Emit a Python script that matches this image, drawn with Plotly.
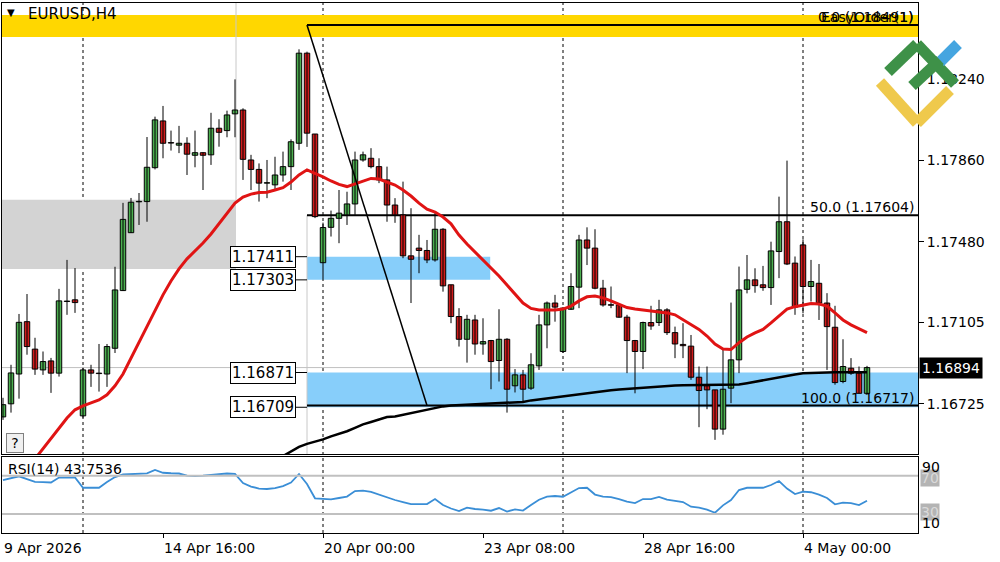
import plotly.graph_objects as go

# ---------------- data (EURUSD H4) ----------------
time_labels = ["9 Apr 2026", "14 Apr 16:00", "20 Apr 00:00", "23 Apr 08:00", "28 Apr 16:00", "4 May 00:00"]
time_label_bars = [0, 20, 40, 60, 80, 100]
week_separators = [10, 40, 70, 100]

open_ = [1.16664, 1.16725, 1.16864, 1.17108, 1.16980, 1.16883, 1.16925, 1.16868, 1.17203, 1.17210,
         1.16669, 1.16883, 1.16868, 1.16864, 1.16984, 1.17253, 1.17523, 1.17667, 1.17668, 1.17826,
         1.18044, 1.17943, 1.17931, 1.17940, 1.17884, 1.17896, 1.17886, 1.18010, 1.17999, 1.18077,
         1.18095, 1.17862, 1.17818, 1.17754, 1.17746, 1.17792, 1.17831, 1.17940, 1.18360, 1.17983,
         1.17383, 1.17548, 1.17590, 1.17606, 1.17657, 1.17862, 1.17870, 1.17831, 1.17769, 1.17652,
         1.17606, 1.17415, 1.17451, 1.17440, 1.17396, 1.17539, 1.17280, 1.17132, 1.17026, 1.17116,
         1.17004, 1.17020, 1.16927, 1.17026, 1.16809, 1.16860, 1.16798, 1.16902, 1.17093, 1.17195,
         1.16969, 1.17166, 1.17269, 1.17489, 1.17451, 1.17264, 1.17186, 1.17186, 1.17129, 1.17020,
         1.16969, 1.17104, 1.17104, 1.17163, 1.17057, 1.17002, 1.16994, 1.16849, 1.16809, 1.16790,
         1.16607, 1.16798, 1.16930, 1.17259, 1.17303, 1.17280, 1.17267, 1.17435, 1.17574, 1.17381,
         1.17466, 1.17272, 1.17287, 1.17195, 1.17082, 1.16829, 1.16891, 1.16868, 1.16774]
high = [1.16753, 1.16907, 1.17144, 1.17237, 1.17033, 1.16969, 1.16939, 1.17261, 1.17396, 1.17358,
        1.16893, 1.16907, 1.17004, 1.17004, 1.17364, 1.17662, 1.17685, 1.17708, 1.17969, 1.18064,
        1.18114, 1.17999, 1.18021, 1.17968, 1.17999, 1.17898, 1.18082, 1.18052, 1.18092, 1.18238,
        1.18103, 1.17886, 1.17846, 1.17862, 1.17877, 1.17901, 1.17958, 1.18378, 1.18367, 1.17983,
        1.17570, 1.17626, 1.17722, 1.17714, 1.17901, 1.17901, 1.17917, 1.17870, 1.17831, 1.17684,
        1.17761, 1.17637, 1.17513, 1.17489, 1.17621, 1.17544, 1.17280, 1.17171, 1.17140, 1.17140,
        1.17124, 1.17023, 1.17166, 1.17031, 1.16887, 1.16883, 1.16961, 1.17140, 1.17202, 1.17233,
        1.17176, 1.17334, 1.17513, 1.17548, 1.17539, 1.17303, 1.17272, 1.17195, 1.17140, 1.17023,
        1.17108, 1.17182, 1.17210, 1.17171, 1.17085, 1.17101, 1.17046, 1.16899, 1.16899, 1.16790,
        1.16984, 1.17197, 1.17365, 1.17419, 1.17357, 1.17368, 1.17481, 1.17691, 1.17859, 1.17412,
        1.17492, 1.17396, 1.17377, 1.17241, 1.17182, 1.17026, 1.16938, 1.16899, 1.16902]
low = [1.16650, 1.16684, 1.16749, 1.16954, 1.16860, 1.16860, 1.16776, 1.16852, 1.17140, 1.17149,
       1.16660, 1.16804, 1.16782, 1.16804, 1.16962, 1.17251, 1.17522, 1.17559, 1.17574, 1.17818,
       1.17870, 1.17906, 1.17894, 1.17792, 1.17828, 1.17722, 1.17839, 1.17924, 1.17968, 1.17968,
       1.17769, 1.17722, 1.17668, 1.17684, 1.17722, 1.17761, 1.17722, 1.17909, 1.17923, 1.17591,
       1.17303, 1.17505, 1.17474, 1.17559, 1.17606, 1.17854, 1.17823, 1.17754, 1.17574, 1.17569,
       1.17404, 1.17195, 1.17334, 1.17381, 1.17388, 1.17248, 1.17101, 1.16992, 1.16917, 1.16954,
       1.16954, 1.16793, 1.16829, 1.16684, 1.16778, 1.16736, 1.16790, 1.16883, 1.16984, 1.17108,
       1.16962, 1.17163, 1.17171, 1.17372, 1.17259, 1.17178, 1.17171, 1.17126, 1.16868, 1.16774,
       1.16887, 1.17070, 1.17088, 1.17046, 1.16938, 1.16938, 1.16837, 1.16616, 1.16700, 1.16557,
       1.16581, 1.16728, 1.16868, 1.17240, 1.17243, 1.17252, 1.17186, 1.17311, 1.17372, 1.17140,
       1.17147, 1.17202, 1.17116, 1.16883, 1.16814, 1.16821, 1.16860, 1.16774, 1.16771]
close_ = [1.16721, 1.16869, 1.17105, 1.16992, 1.16887, 1.16922, 1.16868, 1.17205, 1.17202, 1.17197,
          1.16883, 1.16868, 1.16866, 1.16992, 1.17256, 1.17585, 1.17665, 1.17668, 1.17828, 1.18049,
          1.17940, 1.17941, 1.17940, 1.17889, 1.17896, 1.17884, 1.18010, 1.17991, 1.18072, 1.18095,
          1.17865, 1.17818, 1.17754, 1.17756, 1.17792, 1.17831, 1.17947, 1.18360, 1.17987, 1.17598,
          1.17547, 1.17590, 1.17614, 1.17657, 1.17862, 1.17886, 1.17831, 1.17769, 1.17652, 1.17606,
          1.17415, 1.17399, 1.17440, 1.17396, 1.17539, 1.17275, 1.17132, 1.17026, 1.17119, 1.17004,
          1.17015, 1.16922, 1.17026, 1.16793, 1.16860, 1.16793, 1.16907, 1.17093, 1.17195, 1.17176,
          1.17171, 1.17272, 1.17489, 1.17451, 1.17264, 1.17186, 1.17185, 1.17129, 1.17020, 1.16969,
          1.17104, 1.17088, 1.17163, 1.17057, 1.17004, 1.16996, 1.16849, 1.16787, 1.16790, 1.16607,
          1.16793, 1.16930, 1.17256, 1.17303, 1.17276, 1.17267, 1.17438, 1.17574, 1.17377, 1.17176,
          1.17272, 1.17295, 1.17195, 1.17085, 1.16824, 1.16899, 1.16868, 1.16774, 1.16894]

ma_red = [None] * 4 + [
    1.16468, 1.16515, 1.16566, 1.16613, 1.16659, 1.16697, 1.16715, 1.16729, 1.16743, 1.16767,
    1.16809, 1.16864, 1.16939, 1.17014, 1.17088, 1.17163, 1.17233, 1.17298, 1.17354, 1.17401,
    1.17438, 1.17475, 1.17517, 1.17564, 1.17615, 1.17661, 1.17689, 1.17703, 1.17710, 1.17712,
    1.17722, 1.17733, 1.17759, 1.17792, 1.17816, 1.17801, 1.17783, 1.17764, 1.17748, 1.17738,
    1.17750, 1.17764, 1.17776, 1.17773, 1.17759, 1.17745, 1.17722, 1.17694, 1.17661, 1.17633,
    1.17619, 1.17596, 1.17564, 1.17512, 1.17470, 1.17433, 1.17396, 1.17358, 1.17321, 1.17279,
    1.17237, 1.17195, 1.17170, 1.17163, 1.17163, 1.17163, 1.17167, 1.17181, 1.17205, 1.17224,
    1.17228, 1.17219, 1.17205, 1.17188, 1.17174, 1.17167, 1.17163, 1.17160, 1.17156, 1.17149,
    1.17140, 1.17116, 1.17093, 1.17072, 1.17041, 1.17004, 1.16981, 1.16978, 1.17010, 1.17037,
    1.17056, 1.17072, 1.17102, 1.17135, 1.17167, 1.17178, 1.17186, 1.17193, 1.17190, 1.17181,
    1.17149, 1.17116, 1.17093, 1.17075, 1.17057]

ma_black = [None] * 34 + [
    1.16460, 1.16482, 1.16501, 1.16524, 1.16538, 1.16547,
    1.16559, 1.16573, 1.16585, 1.16597, 1.16613, 1.16629, 1.16640, 1.16652, 1.16663, 1.16666,
    1.16674, 1.16681, 1.16688, 1.16697, 1.16706, 1.16713, 1.16717, 1.16719, 1.16721, 1.16722,
    1.16724, 1.16725, 1.16727, 1.16728, 1.16730, 1.16734, 1.16741, 1.16746, 1.16750, 1.16755,
    1.16759, 1.16764, 1.16769, 1.16774, 1.16779, 1.16784, 1.16788, 1.16792, 1.16795, 1.16798,
    1.16801, 1.16804, 1.16807, 1.16810, 1.16810, 1.16812, 1.16812, 1.16812, 1.16813, 1.16813,
    1.16814, 1.16814, 1.16815, 1.16821, 1.16828, 1.16835, 1.16844, 1.16850, 1.16857, 1.16862,
    1.16867, 1.16869, 1.16871, 1.16872, 1.16872, 1.16872, 1.16872, 1.16872, 1.16872]

rsi = [65.4, 67.0, 69.3, 66.4, 63.5, 63.3, 62.8, 68.0, 68.2, 68.2,
       57.3, 57.3, 57.3, 63.3, 68.5, 71.2, 71.7, 72.1, 72.4, 75.9,
       73.0, 72.5, 72.2, 70.1, 69.6, 70.1, 70.6, 71.2, 72.2, 71.9,
       62.3, 58.6, 56.5, 56.0, 57.0, 59.1, 62.8, 71.7, 61.2, 46.3,
       45.5, 45.2, 46.6, 48.1, 53.9, 54.4, 53.1, 50.2, 47.1, 44.5,
       42.4, 40.3, 40.3, 40.3, 45.5, 39.2, 35.6, 33.0, 36.6, 35.1,
       34.5, 33.3, 36.1, 32.4, 34.7, 33.5, 39.2, 44.8, 48.1, 48.7,
       47.9, 52.8, 57.0, 57.3, 50.2, 48.1, 47.6, 45.5, 42.9, 41.3,
       45.5, 45.5, 47.8, 45.0, 43.4, 42.4, 37.5, 36.6, 34.5, 31.2,
       38.9, 44.5, 54.9, 57.3, 57.3, 57.3, 60.2, 64.4, 56.5, 50.8,
       53.2, 52.6, 50.2, 46.6, 40.0, 41.7, 41.3, 39.2, 43.7536]

price_ticks = [1.18240, 1.17860, 1.17480, 1.17105, 1.16725]
price_tick_text = ["1.18240", "1.17860", "1.17480", "1.17105", "1.16725"]
last_price = 1.16894
fib_levels = [1.18491, 1.17604, 1.16717]
fib_texts = ["0.0 (1.18491)", "50.0 (1.17604)", "100.0 (1.16717)"]
fib_start_bar, fib_end_bar = 38, 53
yellow_band = (1.18436, 1.18538)
gray_zone = (1.17354, 1.17676)
gray_zone_end_bar = 29.125
zone_upper = (1.17303, 1.17411)
zone_upper_end_bar = 60.9
zone_lower = (1.16709, 1.16871)
zone_labels = [1.17411, 1.17303, 1.16871, 1.16709]
rsi_levels = [70, 30]

# ---------------- styling / layout helpers ----------------
FONT = "DejaVu Sans"
GREEN = "#4CAF50"
RED = "#D01C1C"
PL, PR, PT, PB = 2, 918, 3, 533
MAIN_BOTTOM, RSI_TOP = 454, 456.5
XR = [-0.125, 114.375]
YR = [1.16491, 1.18594]


def px(x):
    return (x - PL) / (PR - PL)


def py(y):
    return (PB - y) / (PB - PT)


N = len(close_)
xs = list(range(N))
fig = go.Figure()

# wicks
wx, wy = [], []
for i in xs:
    wx += [i, i, None]
    wy += [low[i], high[i], None]
fig.add_trace(go.Scatter(x=wx, y=wy, mode="lines", line=dict(color="black", width=1),
                         hoverinfo="skip", showlegend=False))

MINB = 0.00002
up = [i for i in xs if close_[i] >= open_[i]]
dn = [i for i in xs if close_[i] < open_[i]]
fig.add_trace(go.Bar(x=up, base=[open_[i] for i in up],
                     y=[max(close_[i] - open_[i], MINB) for i in up], width=0.68,
                     marker=dict(color=GREEN, line=dict(color="black", width=1)), showlegend=False))
fig.add_trace(go.Bar(x=dn, base=[close_[i] for i in dn],
                     y=[max(open_[i] - close_[i], MINB) for i in dn], width=0.68,
                     marker=dict(color=RED, line=dict(color="black", width=1)), showlegend=False))

fig.add_trace(go.Scatter(x=xs, y=ma_black, mode="lines", line=dict(color="black", width=2.5),
                         showlegend=False, connectgaps=False))
fig.add_trace(go.Scatter(x=xs, y=ma_red, mode="lines", line=dict(color="#E01414", width=3),
                         showlegend=False, connectgaps=False))

fig.add_trace(go.Scatter(x=xs, y=rsi, mode="lines", line=dict(color="#3A8ED6", width=1.8),
                         xaxis="x2", yaxis="y2", showlegend=False))

shapes = []
# rectangles
shapes.append(dict(type="rect", xref="x", yref="y", x0=XR[0], x1=XR[1], y0=yellow_band[0], y1=yellow_band[1],
                   fillcolor="#FFD700", line=dict(width=0), layer="below"))
shapes.append(dict(type="rect", xref="x", yref="y", x0=XR[0], x1=gray_zone_end_bar, y0=gray_zone[0], y1=gray_zone[1],
                   fillcolor="#D3D3D3", line=dict(width=0), layer="below"))
shapes.append(dict(type="rect", xref="x", yref="y", x0=fib_start_bar, x1=zone_upper_end_bar, y0=zone_upper[0],
                   y1=zone_upper[1], fillcolor="#87CEFA", line=dict(width=0), layer="below"))
shapes.append(dict(type="rect", xref="x", yref="y", x0=fib_start_bar, x1=XR[1], y0=zone_lower[0],
                   y1=zone_lower[1], fillcolor="#87CEFA", line=dict(width=0), layer="below"))
# thin gray verticals and bid line
shapes.append(dict(type="line", xref="x", yref="y", x0=gray_zone_end_bar, x1=gray_zone_end_bar, y0=gray_zone[1],
                   y1=YR[1], line=dict(color="#C8C8C8", width=1), layer="below"))
shapes.append(dict(type="line", xref="x", yref="y", x0=fib_start_bar, x1=fib_start_bar, y0=YR[0],
                   y1=fib_levels[1], line=dict(color="#C8C8C8", width=1), layer="below"))
shapes.append(dict(type="line", xref="x", yref="y", x0=XR[0], x1=XR[1], y0=last_price, y1=last_price,
                   line=dict(color="#C0C0C0", width=1), layer="below"))
# week separators
for s in week_separators:
    shapes.append(dict(type="line", xref="x", yref="paper", x0=s, x1=s, y0=0, y1=1,
                       line=dict(color="black", width=1, dash="3px,3px"), layer="below"))
# fibonacci
for lv in fib_levels:
    shapes.append(dict(type="line", xref="x", yref="y", x0=fib_start_bar, x1=XR[1], y0=lv, y1=lv,
                       line=dict(color="black", width=2), layer="below"))
shapes.append(dict(type="line", xref="x", yref="y", x0=fib_start_bar, x1=fib_end_bar, y0=fib_levels[0],
                   y1=fib_levels[2], line=dict(color="black", width=1.5)))
# ticks from zone labels
for lv in zone_labels:
    shapes.append(dict(type="line", xref="x", yref="y", x0=36.6, x1=fib_start_bar, y0=lv, y1=lv,
                       line=dict(color="black", width=1)))
# rsi levels
for lv in rsi_levels:
    shapes.append(dict(type="line", xref="x2", yref="y2", x0=XR[0], x1=XR[1], y0=lv, y1=lv,
                       line=dict(color="#C0C0C0", width=2)))


# logo (paper coords)
def seg(p, q, color, w=11):
    return dict(type="line", xref="paper", yref="paper", x0=px(p[0]), y0=py(p[1]), x1=px(q[0]), y1=py(q[1]),
                line=dict(color=color, width=w))


LG, LB, LY = "#3E9148", "#45A5E0", "#EFC94C"
shapes += [seg((880, 82), (917, 123), LY), seg((917, 123), (950, 90), LY),
           seg((888, 72), (917, 44), LG), seg((917, 44), (955, 84), LG),
           seg((940, 62), (958, 44), LB), seg((912, 86), (940, 60), LG)]

ann = []


def A(**k):
    ann.append(k)


A(text="EURUSD,H4", x=px(26), y=py(14), xref="paper", yref="paper", xanchor="left", yanchor="middle",
  showarrow=False, font=dict(family=FONT, size=15, color="black"))
A(text="▼", x=px(11), y=py(13), xref="paper", yref="paper", xanchor="center", yanchor="middle",
  showarrow=False, font=dict(family=FONT, size=10, color="black"))
A(text="?", x=px(15), y=py(443), xref="paper", yref="paper", xanchor="center", yanchor="middle",
  showarrow=False, font=dict(family=FONT, size=14, color="black"), bordercolor="#808080", borderwidth=1,
  bgcolor="#F0F0F0", width=14, height=16)
for lv in zone_labels:
    A(text=f"{lv:.5f}", x=36.6, y=lv, xref="x", yref="y", xanchor="right", yanchor="middle", showarrow=False,
      font=dict(family=FONT, size=15, color="black"), bordercolor="black", borderwidth=1, bgcolor="white",
      borderpad=1)
for lv, t in zip(fib_levels, fib_texts):
    A(text=t, x=px(916), y=lv, xref="paper", yref="y", xanchor="right", yanchor="bottom", showarrow=False,
      font=dict(family=FONT, size=14, color="black"), yshift=-2)
A(text="EasyOrder(1)", x=px(916), y=fib_levels[0], xref="paper", yref="y", xanchor="right", yanchor="bottom",
  showarrow=False, font=dict(family=FONT, size=14, color="black"), yshift=-2)
A(text="RSI(14) 43.7536", x=px(6), y=py(469), xref="paper", yref="paper", xanchor="left", yanchor="middle",
  showarrow=False, font=dict(family=FONT, size=14, color="black"))
for b, t in zip(time_label_bars, time_labels):
    A(text=t, x=b - 0.1, y=py(548), xref="x", yref="paper", xanchor="left", yanchor="middle",
      showarrow=False, font=dict(family=FONT, size=14, color="black"))
A(text=f"{last_price:.5f}", x=px(919), y=last_price, xref="paper", yref="y", xanchor="left", yanchor="middle",
  showarrow=False, font=dict(family=FONT, size=14, color="white"), bgcolor="black", borderpad=2)
# rsi scale
A(text="70", x=px(920), y=py(478), xref="paper", yref="paper", xanchor="left", yanchor="middle", showarrow=False,
  font=dict(family=FONT, size=14, color="#DADADA"), bgcolor="#B4B4B4", borderpad=0)
A(text="30", x=px(920), y=py(512), xref="paper", yref="paper", xanchor="left", yanchor="middle", showarrow=False,
  font=dict(family=FONT, size=14, color="#DADADA"), bgcolor="#B4B4B4", borderpad=0)
A(text="90", x=px(920), y=py(467), xref="paper", yref="paper", xanchor="left", yanchor="middle", showarrow=False,
  font=dict(family=FONT, size=14, color="black"))
A(text="10", x=px(920), y=py(523), xref="paper", yref="paper", xanchor="left", yanchor="middle", showarrow=False,
  font=dict(family=FONT, size=14, color="black"))

axis_common = dict(showgrid=False, zeroline=False, showline=True, mirror=True, linecolor="black", linewidth=1)
fig.update_layout(
    width=1000, height=562, margin=dict(l=PL, r=1000 - PR, t=PT, b=562 - PB, pad=0),
    paper_bgcolor="white", plot_bgcolor="white", barmode="overlay", bargap=0, showlegend=False,
    xaxis=dict(domain=[0, 1], range=XR, anchor="y", showticklabels=False, ticks="", **axis_common),
    yaxis=dict(domain=[py(MAIN_BOTTOM), 1], range=YR, anchor="x", side="right", tickvals=price_ticks,
               ticktext=price_tick_text, ticks="outside", ticklen=5, tickcolor="black",
               tickfont=dict(family=FONT, size=14, color="black"), **axis_common),
    xaxis2=dict(domain=[0, 1], range=XR, anchor="y2", tickvals=time_label_bars[1:], ticks="outside", ticklen=4,
                tickcolor="black", showticklabels=False, **axis_common),
    yaxis2=dict(domain=[0, py(RSI_TOP)], range=[10, 90], anchor="x2", showticklabels=False, ticks="",
                **axis_common),
    shapes=shapes, annotations=ann,
)
fig.write_html("out.html", config={"displayModeBar": False, "staticPlot": True},
               post_script="document.body.style.margin='0';document.body.style.overflow='hidden';")
